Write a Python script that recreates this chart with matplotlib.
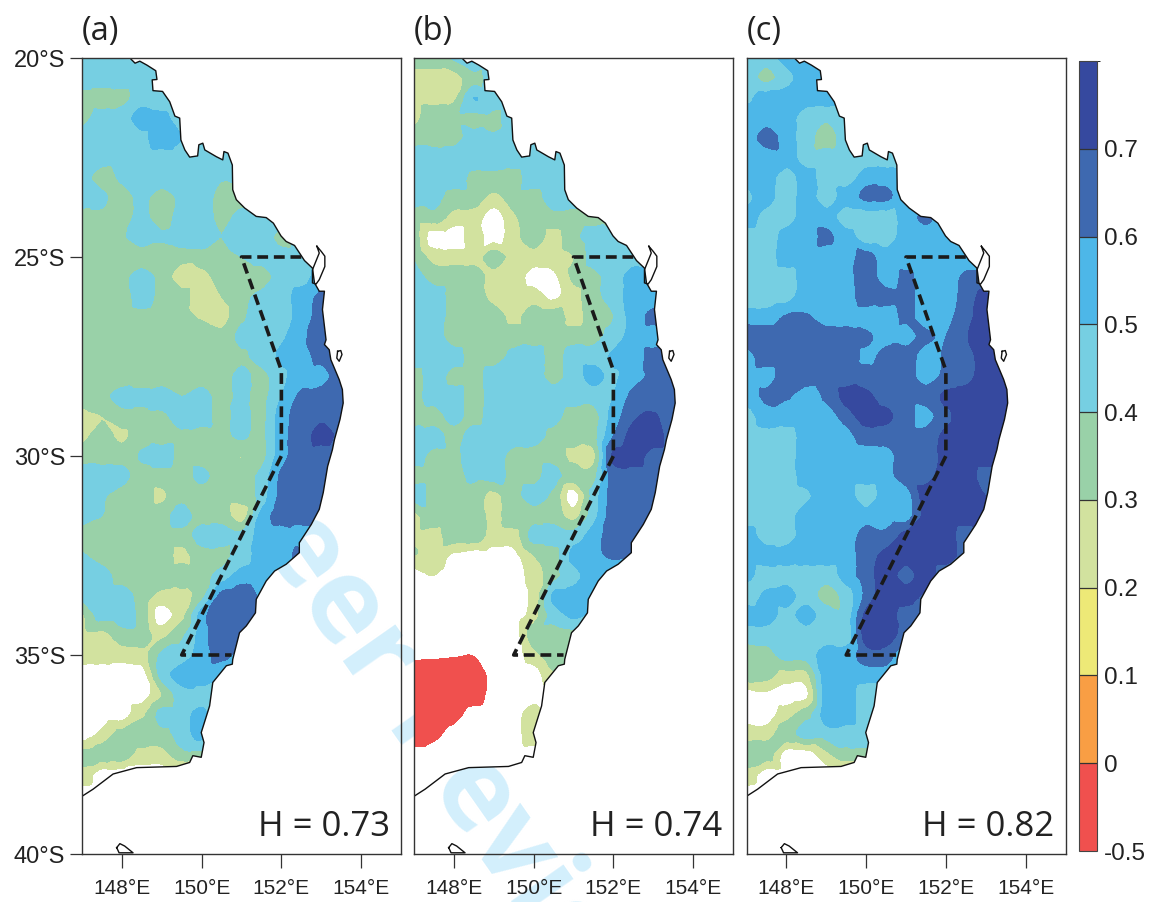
import numpy as np
import matplotlib
matplotlib.use("Agg")
import matplotlib.pyplot as plt
import matplotlib.tri as mtri
from matplotlib.colors import BoundaryNorm, ListedColormap
from matplotlib.patches import Polygon
from matplotlib.cm import ScalarMappable

# Grid of the field, rows run north to south. Rows stop just past the coast
lons = np.arange(147, 154.5, 0.5)
lats = np.arange(-20, -39, -0.5)

# Panel (a), values in hundredths
field_a = [
    [45, 45, 45, 45], [45, 45, 45, 45, 45], [37, 36, 37, 45, 45, 45], [37, 43, 45, 55, 52, 45],
    [44, 44, 44, 47, 56, 50, 45], [44, 44, 45, 45, 45, 45, 45, 45],
    [43, 36, 42, 45, 45, 45, 45, 41, 45], [44, 42, 36, 42, 36, 42, 45, 36, 36],
    [37, 38, 37, 42, 36, 44, 45, 37, 44, 45], [37, 37, 39, 45, 41, 44, 45, 40, 45, 45, 37, 45],
    [35, 35, 35, 35, 35, 35, 36, 37, 40, 44, 44, 45, 45],
    [35, 35, 37, 44, 37, 22, 26, 35, 35, 35, 44, 45, 55],
    [32, 35, 35, 44, 37, 36, 20, 30, 37, 43, 45, 55, 62, 62],
    [35, 35, 35, 37, 35, 35, 28, 26, 38, 45, 44, 55, 63, 63],
    [35, 35, 35, 35, 35, 35, 39, 33, 43, 45, 48, 58, 63, 63],
    [35, 35, 35, 35, 35, 35, 35, 35, 38, 44, 52, 56, 63, 65],
    [35, 35, 35, 35, 35, 35, 35, 35, 43, 37, 47, 56, 56, 65, 65],
    [35, 38, 43, 42, 44, 40, 44, 36, 42, 37, 50, 62, 65, 65, 65],
    [27, 30, 36, 37, 38, 44, 44, 36, 44, 37, 55, 65, 68, 68, 68],
    [27, 34, 28, 36, 36, 38, 36, 37, 42, 37, 56, 65, 73, 68, 68],
    [36, 36, 36, 41, 44, 37, 36, 36, 30, 36, 56, 65, 65, 65, 65],
    [44, 44, 43, 36, 36, 36, 42, 36, 36, 43, 62, 65, 65, 65],
    [44, 41, 36, 36, 28, 37, 36, 36, 35, 44, 63, 65, 65],
    [44, 40, 36, 36, 36, 44, 36, 36, 25, 53, 65, 65, 65],
    [36, 36, 36, 36, 36, 36, 44, 44, 43, 54, 54, 55, 55],
    [41, 36, 36, 36, 36, 27, 36, 37, 45, 54, 55, 63, 63],
    [44, 44, 36, 36, 36, 36, 36, 44, 54, 54, 54, 54],
    [44, 44, 44, 36, 27, 27, 36, 63, 66, 58],
    [28, 44, 44, 36, 15, 27, 55, 66, 65, 60],
    [27, 27, 36, 36, 27, 38, 55, 66, 62, 55],
    [25, 24, 24, 26, 42, 44, 55, 63, 56, 50],
    [15, 15, 15, 15, 44, 55, 56, 52, 46],
    [15, 15, 15, 15, 30, 45, 46, 55, 46],
    [15, 15, 15, 28, 44, 45, 53, 40],
    [15, 23, 34, 36, 36, 44, 53, 40],
    [33, 35, 36, 26, 26, 36, 36],
    [26, 15, 15, 15, 15, 15, 15],
    [15, 15],
]

# Panel (b)
field_b = [
    [36, 36, 42, 55, 45], [26, 26, 26, 36, 44, 45], [26, 26, 28, 50, 44, 44],
    [26, 37, 37, 37, 38, 46, 50], [36, 36, 37, 43, 41, 44, 44],
    [44, 44, 44, 44, 44, 44, 44], [44, 44, 44, 38, 37, 37, 44, 44, 44],
    [44, 43, 36, 36, 27, 36, 37, 44, 44], [36, 36, 26, 25, 15, 28, 36, 37, 37, 37],
    [36, 15, 15, 25, 15, 26, 36, 26, 37, 44, 45, 45],
    [39, 26, 25, 25, 36, 26, 25, 25, 30, 44, 44, 45, 45],
    [44, 36, 36, 37, 25, 24, 17, 18, 32, 37, 44, 55, 55],
    [44, 44, 37, 36, 26, 26, 25, 18, 26, 37, 44, 55, 56],
    [45, 44, 37, 36, 36, 27, 36, 36, 26, 36, 40, 55, 62, 62],
    [45, 44, 36, 36, 36, 36, 36, 36, 36, 37, 44, 55, 56, 56],
    [45, 44, 43, 37, 36, 42, 44, 37, 44, 45, 52, 55, 63, 63],
    [36, 44, 37, 37, 44, 44, 44, 37, 44, 54, 48, 56, 62, 65],
    [36, 44, 44, 36, 44, 44, 44, 44, 44, 44, 50, 63, 65, 65, 65],
    [36, 36, 43, 37, 44, 44, 44, 43, 36, 36, 54, 68, 71, 65, 65],
    [44, 44, 37, 44, 44, 44, 44, 37, 36, 36, 60, 74, 75, 65, 65],
    [44, 37, 38, 44, 44, 37, 36, 36, 27, 27, 72, 74, 66, 66],
    [36, 36, 36, 42, 44, 37, 36, 44, 36, 36, 65, 66, 65, 65],
    [44, 36, 36, 36, 27, 37, 44, 37, 15, 44, 65, 65, 65],
    [27, 36, 36, 36, 27, 36, 36, 36, 26, 46, 65, 65, 65],
    [28, 26, 36, 36, 26, 26, 44, 44, 44, 55, 64, 64],
    [30, 26, 18, 15, 15, 17, 30, 36, 53, 57, 62, 60],
    [15, 20, 15, 15, 15, 15, 25, 36, 46, 54, 50],
    [15, 15, 15, 15, 15, 15, 23, 52, 54, 50],
    [15, 15, 15, 15, 15, 15, 25, 44, 52, 48],
    [15, 15, 15, 15, 15, 15, 36, 36, 37],
    [8, 5, 2, 0, 15, 15, 26, 36, 36],
    [-30, -30, -30, -30, 12, 15, 15, 28, 25],
    [-30, -30, -30, -20, 12, 15, 15, 15, 15],
    [-30, -30, -15, 12, 15, 15, 26, 15],
    [-30, -12, 12, 15, 15, 15, 26, 15],
    [15, 15, 15, 15, 15, 15, 15],
    [15, 15],
    [15, 15],
]

# Panel (c)
field_c = [
    [45, 45, 55, 55, 55], [44, 37, 46, 55, 55, 55], [48, 54, 55, 55, 55, 55],
    [55, 55, 55, 44, 42, 45], [55, 64, 55, 44, 36, 44],
    [55, 55, 55, 45, 44, 45, 45, 45], [55, 55, 45, 54, 45, 44, 55, 55, 55],
    [46, 55, 44, 55, 44, 55, 62, 62, 55], [55, 45, 45, 55, 55, 44, 44, 44, 55, 62, 55],
    [45, 44, 54, 55, 62, 55, 44, 44, 55, 55, 55, 55],
    [44, 44, 55, 55, 55, 55, 64, 55, 55, 55, 55, 55, 55],
    [42, 44, 45, 55, 55, 56, 65, 55, 62, 55, 55, 62, 62],
    [44, 44, 46, 55, 55, 55, 65, 63, 63, 55, 55, 64, 72, 55],
    [55, 55, 61, 61, 55, 55, 55, 55, 62, 55, 57, 66, 75, 75],
    [65, 65, 65, 65, 65, 65, 62, 57, 56, 62, 60, 69, 75, 75],
    [55, 65, 65, 65, 65, 65, 58, 63, 65, 55, 62, 66, 75, 75],
    [55, 56, 65, 65, 65, 65, 65, 65, 65, 55, 63, 66, 75, 75, 75],
    [55, 62, 61, 55, 62, 73, 72, 66, 65, 65, 72, 75, 75, 75, 75],
    [45, 55, 55, 55, 55, 65, 74, 72, 65, 55, 68, 75, 75, 75, 75],
    [45, 47, 46, 54, 55, 56, 65, 65, 65, 65, 72, 75, 75, 75],
    [44, 45, 46, 54, 55, 55, 55, 56, 65, 65, 73, 75, 75, 75, 75],
    [44, 44, 44, 55, 55, 55, 55, 57, 65, 66, 75, 75, 66, 66],
    [44, 44, 44, 48, 55, 55, 44, 55, 55, 75, 75, 75, 70],
    [44, 44, 46, 55, 55, 55, 55, 55, 55, 73, 75, 75, 75],
    [55, 44, 44, 55, 55, 55, 64, 63, 73, 75, 75, 65, 65],
    [55, 55, 55, 55, 55, 55, 65, 73, 75, 75, 75, 66],
    [54, 45, 45, 44, 44, 55, 65, 75, 65, 75, 64],
    [44, 52, 55, 44, 37, 44, 63, 75, 75, 68],
    [55, 55, 46, 55, 44, 44, 73, 75, 65, 60],
    [44, 44, 44, 44, 44, 44, 75, 75, 65],
    [36, 37, 44, 44, 55, 55, 65, 65, 50],
    [36, 34, 26, 27, 55, 55, 55, 55, 46],
    [15, 18, 15, 18, 55, 55, 44, 44],
    [15, 15, 26, 36, 55, 55, 44, 44],
    [26, 26, 36, 44, 44, 44, 44],
    [36, 35, 15, 15, 27, 36, 36],
    [26, 15, 15, 15, 15, 15, 15],
    [15, 15],
]

panel_names = ["(a)", "(b)", "(c)"]
panel_h = ["H = 0.73", "H = 0.74", "H = 0.82"]

levels = [-0.5, 0, 0.1, 0.2, 0.3, 0.4, 0.5, 0.6, 0.7, 0.8]
bar_labels = ["-0.5", "0", "0.1", "0.2", "0.3", "0.4", "0.5", "0.6", "0.7"]
colours = ["#F0504E", "#F99E44", "#EDE977", "#D2E29F", "#99D1A8",
           "#76CFE2", "#4DB7E8", "#3E69B0", "#36499F"]
# values between 0 and 0.2 are left blank on the maps
map_colours = ["#F0504E", "white", "white", "#D2E29F", "#99D1A8",
               "#76CFE2", "#4DB7E8", "#3E69B0", "#36499F"]

coast_lon = [148.23, 148.33, 148.45, 148.63, 148.85, 148.88, 148.76, 148.78, 149.02, 149.2,
             149.33, 149.45, 149.48, 149.58, 149.7, 149.9, 149.93, 150.03, 150.08, 150.37,
             150.53, 150.56, 150.66, 150.77, 150.78, 150.87, 151.08, 151.37, 151.62, 151.8,
             151.99, 152.12, 152.33, 152.58, 152.78, 152.83, 152.95, 153.08, 153.03, 153.12,
             153.08, 153.2, 153.24, 153.45, 153.53, 153.55, 153.47, 153.33, 153.28, 153.16,
             153.05, 152.95, 152.75, 152.45, 152.45, 152.12, 151.83, 151.62, 151.37, 151.35,
             151.12, 150.95, 150.78, 150.77, 150.62, 150.28, 150.2, 149.99, 150.06, 149.99,
             149.78, 149.7, 149.37, 148.37, 147.78, 147.28, 147.0]
coast_lat = [-20.03, -20.13, -20.08, -20.18, -20.32, -20.54, -20.55, -20.82, -20.84, -21.1,
             -21.46, -21.51, -22.06, -22.31, -22.49, -22.46, -22.18, -22.14, -22.31, -22.48,
             -22.56, -22.35, -22.39, -22.69, -23.31, -23.56, -23.77, -23.98, -24.01, -24.15,
             -24.47, -24.61, -24.71, -25.09, -25.28, -25.65, -25.86, -25.86, -26.32, -27.08,
             -27.2, -27.33, -27.58, -28.08, -28.33, -28.67, -29.08, -29.59, -29.84, -30.26,
             -30.92, -31.34, -31.72, -32.18, -32.43, -32.72, -32.89, -33.14, -33.6, -33.94,
             -34.27, -34.44, -35.11, -35.23, -35.27, -35.69, -36.28, -36.95, -37.2, -37.57,
             -37.53, -37.7, -37.8, -37.83, -37.99, -38.37, -38.55]

fraser_lon = [152.89, 153.0, 153.09, 153.09, 152.95, 152.87, 152.78, 152.78, 152.95, 152.89]
fraser_lat = [-24.73, -24.86, -24.98, -25.24, -25.57, -25.68, -25.65, -25.32, -24.9, -24.73]
moreton_lon = [153.41, 153.49, 153.52, 153.45, 153.39, 153.41]
moreton_lat = [-27.37, -27.35, -27.45, -27.62, -27.54, -27.37]
tas_lon = [147.87, 147.95, 148.07, 148.28, 147.93, 147.87]
tas_lat = [-39.84, -39.74, -39.8, -39.97, -39.97, -39.84]

box_lon = [152.5, 151.0, 152.0, 152.0, 149.5, 150.75]
box_lat = [-25.0, -25.0, -27.85, -30.0, -35.0, -35.0]

lat_ticks = [-20, -25, -30, -35, -40]
lat_labels = ["20°S", "25°S", "30°S", "35°S", "40°S"]
lon_ticks = [148, 150, 152, 154]
lon_labels = ["148°E", "150°E", "152°E", "154°E"]

W, H = 1155, 902
plt.rcParams["font.family"] = ["Liberation Sans", "DejaVu Sans"]
fig = plt.figure(figsize=(W / 100, H / 100), dpi=100)

# faint watermark that sits behind the maps
fig.text(241 / W, 1 - 463 / H, "Peer Review", color="#D3EFFC", fontsize=84, family="Open Sans",
         fontweight="bold", rotation=-55, rotation_mode="anchor", ha="left", va="center",
         zorder=-1)


def to_grid(rows):
    # seaward of the coast only the clip matters, so repeat the last value
    return np.array([r + [r[-1]] * (len(lons) - len(r)) for r in rows]) / 100


lon_grid, lat_grid = np.meshgrid(lons, lats)
triang = mtri.Triangulation(lon_grid.ravel(), lat_grid.ravel())
refiner = mtri.UniformTriRefiner(triang)

for i, (rows, left) in enumerate(zip([field_a, field_b, field_c], [82, 414, 746.5])):
    ax = fig.add_axes([left / W, 1 - 854 / H, 319 / W, 796 / H])
    ax.patch.set_alpha(0)
    z = to_grid(rows).ravel()
    interp = mtri.CubicTriInterpolator(triang, z, kind="geom")
    fine_tri, fine_z = refiner.refine_field(z, triinterpolator=interp, subdiv=3)
    cs = ax.tricontourf(fine_tri, np.clip(fine_z, -0.49, 0.79), levels=levels, colors=map_colours)
    land = Polygon(np.column_stack([coast_lon + [147.0, 147.0], coast_lat + [-38.55, -20.0]]), closed=True,
                   transform=ax.transData, fc="none", ec="none")
    ax.add_patch(land)
    cs.set_clip_path(land)
    ax.plot(coast_lon, coast_lat, color="#111111", lw=1.0)
    ax.plot(fraser_lon, fraser_lat, color="#111111", lw=1.0)
    ax.plot(moreton_lon, moreton_lat, color="#111111", lw=1.0)
    ax.plot(tas_lon, tas_lat, color="#111111", lw=1.0)
    ax.plot(box_lon, box_lat, color="#1a1a1a", lw=2.6, linestyle=(0, (3.0, 1.6)))
    ax.set_xlim(147, 155)
    ax.set_ylim(-40, -20)
    ax.set_xticks(lon_ticks)
    ax.set_xticklabels(lon_labels, fontsize=15, color="#222222")
    ax.tick_params(axis="x", length=10, width=0.9, pad=8, color="#333333")
    if i == 0:
        ax.set_yticks(lat_ticks)
        ax.set_yticklabels(lat_labels, fontsize=17, color="#222222")
        ax.tick_params(axis="y", length=9, width=0.9, pad=3, color="#333333")
    else:
        ax.set_yticks([])
    for s in ax.spines.values():
        s.set_linewidth(1.0)
        s.set_color("#333333")
    ax.text(0.0, 1.012, panel_names[i], transform=ax.transAxes, fontsize=23.5, family="Open Sans",
            color="#222222", va="bottom")
    ax.text(0.965, 0.013, panel_h[i], transform=ax.transAxes, fontsize=25, family="Open Sans",
            color="#222222", ha="right", va="bottom")

# colourbar keeps the full scale, including the bands left blank on the maps
cax = fig.add_axes([1079 / W, 1 - 851 / H, 18 / W, 790 / H])
sm = ScalarMappable(norm=BoundaryNorm(levels, 9), cmap=ListedColormap(colours))
cb = fig.colorbar(sm, cax=cax, spacing="uniform", ticks=levels[:-1], drawedges=True)
cb.ax.set_yticklabels(bar_labels, fontsize=17.5, color="#222222")
cb.ax.tick_params(length=0, pad=5)
cb.outline.set_linewidth(0.8)
cb.outline.set_edgecolor("#444444")
cb.dividers.set_linewidth(0.9)
cb.dividers.set_color("#333333")

fig.savefig("out.png", dpi=100)
